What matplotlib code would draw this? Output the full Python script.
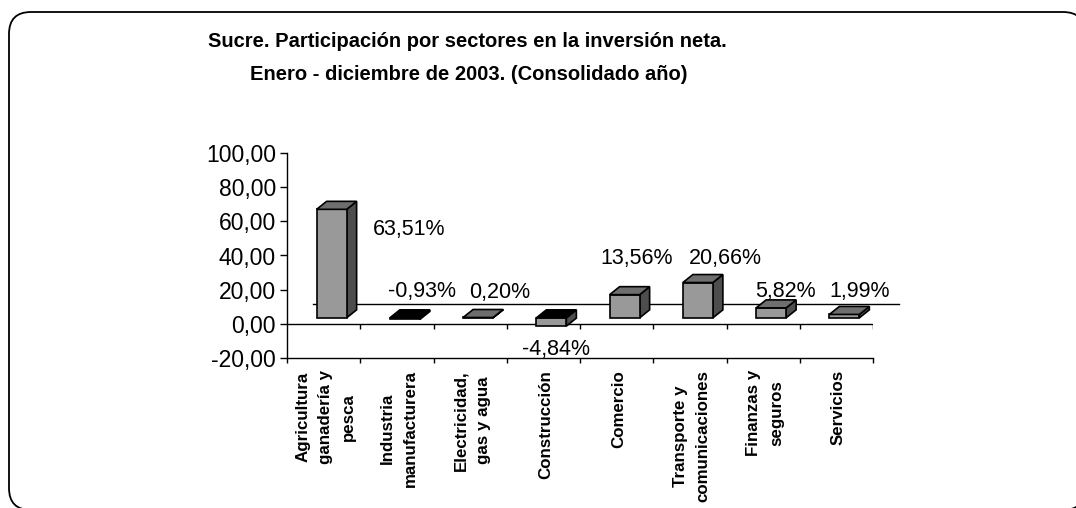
import matplotlib
matplotlib.use("Agg")
import matplotlib.pyplot as plt
from matplotlib.patches import Polygon, Rectangle, FancyBboxPatch

# datos
sectores = ["Agricultura\nganadería y\npesca", "Industria\nmanufacturera",
            "Electricidad,\ngas y agua", "Construcción", "Comercio",
            "Transporte y\ncomunicaciones", "Finanzas y\nseguros", "Servicios"]
participacion = [63.51, -0.93, 0.20, -4.84, 13.56, 20.66, 5.82, 1.99]
etiquetas = ["63,51%", "-0,93%", "0,20%", "-4,84%", "13,56%", "20,66%", "5,82%", "1,99%"]
y_ticks = [-20, 0, 20, 40, 60, 80, 100]
titulo = ["Sucre. Participación por sectores en la inversión neta.",
          "Enero - diciembre de 2003. (Consolidado año)"]

# desplazamiento de las etiquetas (pixeles) respecto a la cara frontal de cada barra
etiqueta_offset = [(78, -20), (17, 26), (22, 25), (5, -32), (12, 36), (28, 24), (14, 16), (15, 23)]

W, H = 1076, 508
fig = plt.figure(figsize=(W / 100, H / 100), dpi=100)

# marco con esquinas redondeadas
bg = fig.add_axes([0, 0, 1, 1], zorder=-1)
bg.set_xlim(0, W)
bg.set_ylim(H, 0)
bg.axis("off")
bg.add_patch(FancyBboxPatch((9, 12), 1076, 498, boxstyle="round,pad=0,rounding_size=22",
                            fc="white", ec="black", lw=1.3))

# area del grafico (pixeles del original)
x_left, x_right, y_top, y_bottom = 287, 873, 153, 358
ax = fig.add_axes([x_left / W, 1 - y_bottom / H, (x_right - x_left) / W, (y_bottom - y_top) / H])
ax.patch.set_visible(False)
n = len(participacion)
ax.set_xlim(0, n)
ax.set_ylim(-20, 100)
px_x = (x_right - x_left) / n          # pixeles por categoria
px_y = (y_bottom - y_top) / 120.0      # pixeles por unidad

# geometria 3D
shift = 8 / px_x
bw = 30 / px_x
bdx, bdy = 10 / px_x, 8 / px_y
base = 6 / px_y
fdx, fdy = 26 / px_x, 20 / px_y

ax.plot([fdx, n + fdx], [fdy, fdy], color="black", lw=1.0, clip_on=False, zorder=1)
ax.plot([0, n], [0, 0], color="black", lw=1.0, zorder=1)
ax.vlines(range(1, n + 1), -5 / px_y, 0, color="black", lw=1.0, zorder=1)

for i, v in enumerate(participacion):
    xc = i + 0.5 + shift
    x0, x1 = xc - bw / 2, xc + bw / 2
    lo, hi = min(base, base + v), max(base, base + v)
    top_col = "#6e6e6e" if v >= 0 else "black"
    ax.add_patch(Polygon([(x1, lo), (x1, hi), (x1 + bdx, hi + bdy), (x1 + bdx, lo + bdy)],
                         closed=True, fc="#4d4d4d", ec="black", lw=1.2, zorder=3))
    ax.add_patch(Rectangle((x0, lo), bw, hi - lo, fc="#999999", ec="black", lw=1.2, zorder=3))
    ax.add_patch(Polygon([(x0, hi), (x1, hi), (x1 + bdx, hi + bdy), (x0 + bdx, hi + bdy)],
                         closed=True, fc=top_col, ec="black", lw=1.2, zorder=4))
    ox, oy = etiqueta_offset[i]
    ax.annotate(etiquetas[i], xy=(xc, base + max(v, 0)), xytext=(ox, oy),
                textcoords="offset pixels", ha="center", va="center",
                fontsize=15.5, family="Liberation Sans", zorder=5)
    ax.annotate(sectores[i], xy=(i + 0.5, -20), xytext=(2, -12), textcoords="offset pixels",
                rotation=90, ha="center", va="top", multialignment="center", linespacing=1.64,
                fontsize=12.2, fontweight="bold", family="Liberation Sans")

ax.set_xticks(range(n + 1))
ax.set_yticks(y_ticks)
ax.set_yticklabels([f"{t:.2f}".replace(".", ",") for t in y_ticks],
                   fontsize=16.5, family="Liberation Sans")
ax.tick_params(axis="x", direction="out", length=3.8, width=1.0, labelbottom=False)
ax.tick_params(axis="y", direction="out", length=5, width=1.0, pad=3)
for s in ["top", "right"]:
    ax.spines[s].set_visible(False)
for s in ["left", "bottom"]:
    ax.spines[s].set_linewidth(1.0)

fig.text(467 / W, 1 - 47 / H, titulo[0], ha="center", va="baseline", fontsize=14.5,
         fontweight="bold", family="Liberation Sans")
fig.text(469 / W, 1 - 80 / H, titulo[1], ha="center", va="baseline", fontsize=14.5,
         fontweight="bold", family="Liberation Sans")

fig.savefig("out.png", dpi=100)
